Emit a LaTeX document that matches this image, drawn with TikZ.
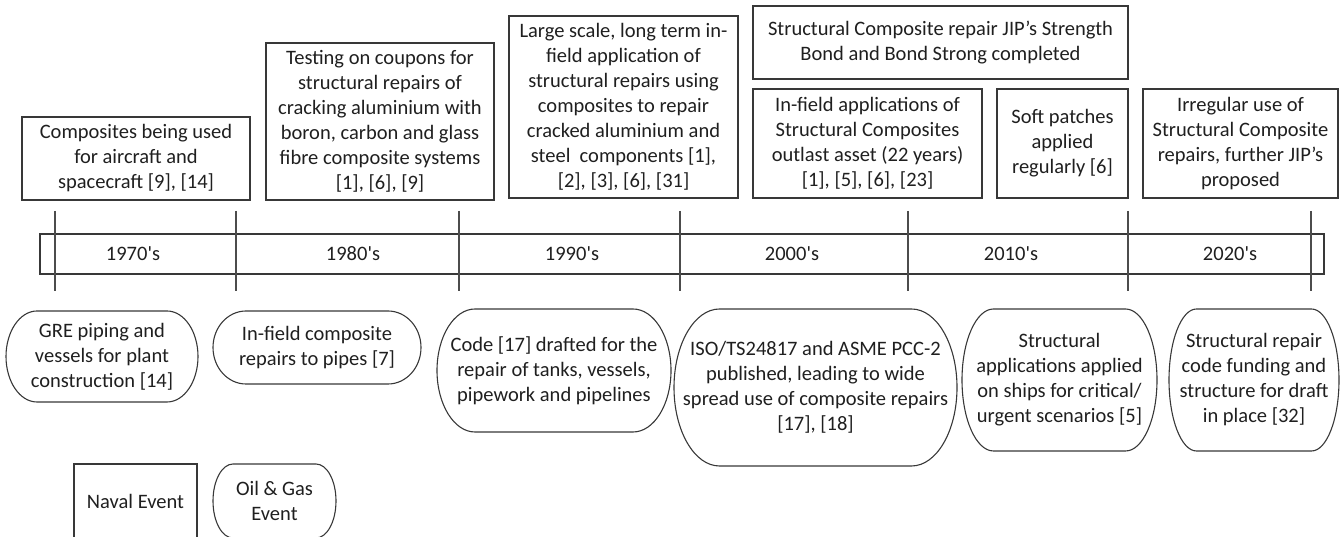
\documentclass[tikz,border=0pt]{standalone}
\usepackage{fontspec}
\setmainfont{Carlito}
\newcommand\termshape[3]{%
  \draw[tline] ([xshift=#2pt]#1.north west) -- ([xshift=-#2pt]#1.north east)
    arc[start angle=90,end angle=-90,x radius=#2,y radius=#3]
    -- ([xshift=#2pt]#1.south west)
    arc[start angle=270,end angle=90,x radius=#2,y radius=#3] -- cycle;}
\begin{document}
\begin{tikzpicture}[x=1pt,y=1pt,
  every node/.style={font=\fontsize{20.5}{25}\selectfont, align=center, inner sep=0pt, outer sep=0pt, text=black!88},
  tline/.style={draw=black!78, line width=1.1pt},
  nbox/.style={tline},
  evt/.style={draw=none},
  tick/.style={draw=black!70, line width=1.1pt}]
\useasboundingbox (0,0) rectangle (1341,537);
\clip (0,0) rectangle (1341,537);
% naval events (top)
\node[nbox, minimum width=228pt, minimum height=83pt] (n1) at (136,378.5)
  {Composites being used\\for aircraft and\\spacecraft [9], [14]};
\node[nbox, minimum width=228pt, minimum height=157pt] (n2) at (380,415.5)
  {Testing on coupons for\\structural repairs of\\cracking aluminium with\\boron, carbon and glass\\fibre composite systems\\{}[1], [6], [9]};
\node[nbox, minimum width=229pt, minimum height=182pt] (n3) at (623.5,430)
  {Large scale, long term in-\\field application of\\structural repairs using\\composites to repair\\cracked aluminium and\\steel\ \ components [1],\\{}[2], [3], [6], [31]};
\node[nbox, minimum width=375pt, minimum height=73pt] (n4) at (940.5,494.5)
  {Structural Composite repair JIP’s Strength\\Bond and Bond Strong completed};
\node[nbox, minimum width=229pt, minimum height=109pt] (n5) at (867.5,393.5)
  {In-field applications of\\Structural Composites\\outlast asset (22 years)\\{}[1], [5], [6], [23]};
\node[nbox, minimum width=131pt, minimum height=109pt] (n6) at (1062.5,393.5)
  {Soft patches\\applied\\regularly [6]};
\node[nbox, minimum width=195pt, minimum height=109pt] (n7) at (1240.5,393.5)
  {Irregular use of\\Structural Composite\\repairs, further JIP’s\\proposed};
% timeline bar
\node[nbox, minimum width=1284pt, minimum height=40pt] (bar) at (682,283) {};
\foreach \x in {55,236,459,680,908,1128,1311}
  \draw[tick] (\x,326) -- (\x,246);
\node (d70) at (133,283) {1970\textquotesingle s};
\node (d80) at (353,283) {1980\textquotesingle s};
\node (d90) at (572,283) {1990\textquotesingle s};
\node (d00) at (792,283) {2000\textquotesingle s};
\node (d10) at (1011,283) {2010\textquotesingle s};
\node (d20) at (1230,283) {2020\textquotesingle s};
% oil & gas events (bottom)
\node[evt, minimum width=192pt, minimum height=91pt] (g1) at (102,180.5)
  {GRE piping and\\vessels for plant\\construction [14]};
\termshape{g1}{31}{45.5}
\node[evt, minimum width=208pt, minimum height=73pt] (g2) at (317,189.5)
  {In-field composite\\repairs to pipes [7]};
\termshape{g2}{33}{36.5}
\node[evt, minimum width=234pt, minimum height=123pt] (g3) at (554,166.5)
  {Code [17] drafted for the\\repair of tanks, vessels,\\pipework and pipelines};
\termshape{g3}{38}{61.5}
\node[evt, minimum width=283pt, minimum height=157pt] (g4) at (815.5,149.5)
  {ISO/TS24817 and ASME PCC-2\\published, leading to wide\\spread use of composite repairs\\{}[17], [18]};
\termshape{g4}{45.5}{78.5}
\node[evt, minimum width=195pt, minimum height=142pt] (g5) at (1059.5,157)
  {Structural\\applications applied\\on ships for critical/\\urgent scenarios [5]};
\termshape{g5}{31.5}{71}
\node[evt, minimum width=170pt, minimum height=142pt] (g6) at (1254,157)
  {Structural repair\\code funding and\\structure for draft\\in place [32]};
\termshape{g6}{27.5}{71}
% legend
\node[nbox, minimum width=123pt, minimum height=74pt] (l1) at (135.5,36) {Naval Event};
\node[evt, minimum width=123pt, minimum height=74pt] (l2) at (274.5,36) {Oil \& Gas\\Event};
\termshape{l2}{20}{37}
\end{tikzpicture}
\end{document}
